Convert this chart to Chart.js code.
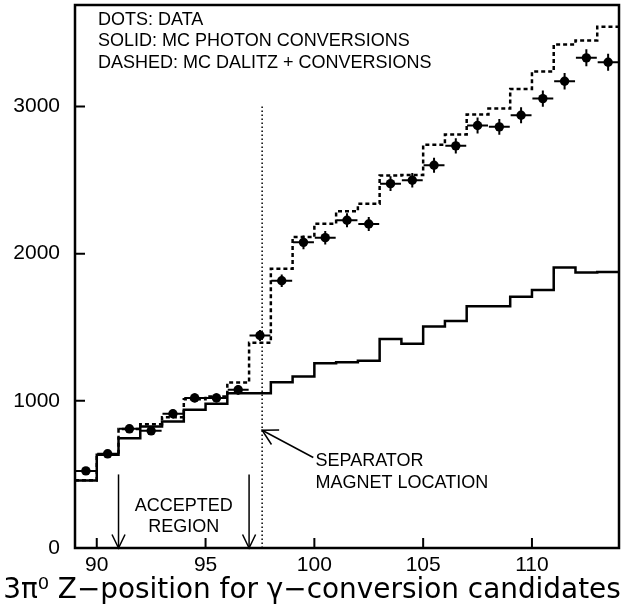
<!DOCTYPE html>
<html>
<head>
<meta charset="utf-8">
<script src="https://cdn.jsdelivr.net/npm/chart.js@4"></script>
<style>
  html, body { margin: 0; padding: 0; background: #fff; }
  canvas { display: block; }
</style>
</head>
<body>
<canvas id="zplot" width="625" height="608"></canvas>
<script>
// bin centres (1 unit wide bins from 89 to 114)
var binCenters = [89.5, 90.5, 91.5, 92.5, 93.5, 94.5, 95.5, 96.5, 97.5, 98.5,
                  99.5, 100.5, 101.5, 102.5, 103.5, 104.5, 105.5, 106.5, 107.5,
                  108.5, 109.5, 110.5, 111.5, 112.5, 113.5];

// dots: data
var dataCounts = [524, 640, 810, 796, 912, 1020, 1020, 1075, 1444, 1816,
                  2077, 2109, 2227, 2202, 2476, 2499, 2601, 2733, 2871,
                  2862, 2941, 3054, 3172, 3331, 3301];
var dataErrors = [22, 25, 28, 28, 30, 32, 32, 33, 38, 43,
                  46, 46, 47, 47, 50, 50, 51, 52, 54,
                  54, 54, 55, 56, 58, 57];

// solid: MC photon conversions
var mcConversions = [458, 633, 746, 825, 859, 939, 980, 1052, 1052, 1127,
                     1166, 1256, 1263, 1272, 1420, 1388, 1506, 1542, 1642,
                     1642, 1708, 1753, 1907, 1873, 1876];

// dashed: MC Dalitz + conversions
var mcDalitzConv = [460, 636, 808, 841, 889, 1011, 1029, 1125, 1395, 1898,
                    2114, 2204, 2288, 2340, 2531, 2535, 2741, 2810, 2946,
                    2986, 3120, 3238, 3422, 3449, 3542];

var xTickValues = [90, 95, 100, 105, 110];
var yTickValues = [0, 1000, 2000, 3000];

// annotations
var separatorZ = 97.6;
var separatorTop = 3000;
var acceptedEdges = [91, 97];
var acceptedArrowTop = 500;

var legendLines = ['DOTS: DATA', 'SOLID: MC PHOTON CONVERSIONS', 'DASHED: MC DALITZ + CONVERSIONS'];
var xTitle = '3\u03C0\u2070 Z\u2212position for \u03B3\u2212conversion candidates';

/**
 * Turn bin centres + contents into step points at the bin edges.
 */
function histPoints(values){
    var pts = [];
    for (var i = 0; i < binCenters.length; i++){
        pts.push({x: binCenters[i] - 0.5, y: values[i]});
    }
    var last = binCenters.length - 1;
    pts.push({x: binCenters[last] + 0.5, y: values[last]});
    return pts;
}

function openArrowHead(ctx, tipX, tipY, fromX, fromY, len, spread){
    var ang = Math.atan2(fromY - tipY, fromX - tipX);
    ctx.beginPath();
    ctx.moveTo(tipX + len*Math.cos(ang - spread), tipY + len*Math.sin(ang - spread));
    ctx.lineTo(tipX, tipY);
    ctx.lineTo(tipX + len*Math.cos(ang + spread), tipY + len*Math.sin(ang + spread));
    ctx.stroke();
}

var decorations = {
    id: 'decorations',
    afterDatasetsDraw: function(chart){
        var ctx = chart.ctx;
        var xs = chart.scales.x;
        var ys = chart.scales.y;
        var area = chart.chartArea;

        ctx.save();
        ctx.strokeStyle = '#000';
        ctx.fillStyle = '#000';
        ctx.lineCap = 'butt';

        // error bars on the data dots
        ctx.lineWidth = 2;
        for (var i = 0; i < binCenters.length; i++){
            var cx = xs.getPixelForValue(binCenters[i]);
            var cy = ys.getPixelForValue(dataCounts[i]);
            ctx.beginPath();
            ctx.moveTo(xs.getPixelForValue(binCenters[i] - 0.48), cy);
            ctx.lineTo(xs.getPixelForValue(binCenters[i] + 0.48), cy);
            ctx.moveTo(cx, ys.getPixelForValue(dataCounts[i] - dataErrors[i]));
            ctx.lineTo(cx, ys.getPixelForValue(dataCounts[i] + dataErrors[i]));
            ctx.stroke();
        }

        // frame
        ctx.lineWidth = 2.5;
        ctx.strokeRect(area.left, area.top, area.right - area.left, area.bottom - area.top);

        // inward tick marks
        ctx.lineWidth = 2;
        ctx.beginPath();
        xTickValues.forEach(function(v){
            var px = xs.getPixelForValue(v);
            ctx.moveTo(px, area.bottom);
            ctx.lineTo(px, area.bottom - 10);
        });
        yTickValues.forEach(function(v){
            var py = ys.getPixelForValue(v);
            ctx.moveTo(area.left, py);
            ctx.lineTo(area.left + 10, py);
        });
        ctx.stroke();

        // accepted region arrows
        ctx.lineWidth = 1.5;
        acceptedEdges.forEach(function(v){
            var px = xs.getPixelForValue(v);
            var top = ys.getPixelForValue(acceptedArrowTop);
            ctx.beginPath();
            ctx.moveTo(px, top);
            ctx.lineTo(px, area.bottom);
            ctx.stroke();
            openArrowHead(ctx, px, area.bottom, px, top, 15, 0.45);
        });

        // separator arrow
        var tipX = xs.getPixelForValue(separatorZ);
        var tipY = ys.getPixelForValue(800);
        var tailX = xs.getPixelForValue(99.95);
        var tailY = ys.getPixelForValue(615);
        ctx.beginPath();
        ctx.moveTo(tailX, tailY);
        ctx.lineTo(tipX, tipY);
        ctx.stroke();
        openArrowHead(ctx, tipX, tipY, tailX, tailY, 17, 0.5);

        // texts
        ctx.font = '18px "Liberation Sans", Arial, sans-serif';
        ctx.textBaseline = 'middle';
        ctx.textAlign = 'left';
        legendLines.forEach(function(t, k){
            ctx.fillText(t, area.left + 23, area.top + 15 + k*21.5);
        });

        ctx.textAlign = 'center';
        var midX = xs.getPixelForValue((acceptedEdges[0] + acceptedEdges[1]) / 2);
        ctx.fillText('ACCEPTED', midX, 506);
        ctx.fillText('REGION', midX, 527);

        ctx.textAlign = 'left';
        var sx = xs.getPixelForValue(100.05);
        ctx.fillText('SEPARATOR', sx, 461);
        ctx.fillText('MAGNET LOCATION', sx, 483);

        // axis title, fitted to the width of the figure
        var size = 26;
        ctx.font = size + 'px "DejaVu Sans", sans-serif';
        var w = ctx.measureText(xTitle).width;
        size = size * 618 / w;
        ctx.font = size.toFixed(1) + 'px "DejaVu Sans", sans-serif';
        ctx.textAlign = 'center';
        ctx.textBaseline = 'alphabetic';
        ctx.fillText(xTitle, 312, 598);

        ctx.restore();
    }
};

var tickFont = {family: '"Liberation Sans", Arial, sans-serif', size: 21};

var config = {
    type: 'line',
    data: {
        datasets: [
            {
                label: 'MC photon conversions',
                data: histPoints(mcConversions),
                stepped: 'before',
                borderColor: '#000',
                borderWidth: 2.5,
                pointRadius: 0,
                fill: false
            },
            {
                label: 'MC Dalitz + conversions',
                data: histPoints(mcDalitzConv),
                stepped: 'before',
                borderColor: '#000',
                borderWidth: 2.5,
                borderDash: [4, 3],
                pointRadius: 0,
                fill: false
            },
            {
                label: 'Data',
                type: 'scatter',
                data: binCenters.map(function(c, i){ return {x: c, y: dataCounts[i]}; }),
                pointRadius: 4.7,
                pointBackgroundColor: '#000',
                pointBorderWidth: 0,
                showLine: false
            },
            {
                label: 'Separator',
                data: [{x: separatorZ, y: 0}, {x: separatorZ, y: separatorTop}],
                borderColor: '#000',
                borderWidth: 1.5,
                borderDash: [1.5, 2.5],
                pointRadius: 0,
                fill: false
            }
        ]
    },
    options: {
        responsive: false,
        animation: false,
        devicePixelRatio: 1,
        layout: {padding: {top: 5, right: 6, left: 0, bottom: 0}},
        plugins: {
            legend: {display: false},
            tooltip: {enabled: false}
        },
        scales: {
            x: {
                type: 'linear',
                position: 'bottom',
                min: 89,
                max: 114,
                grid: {display: false},
                border: {display: false},
                afterFit: function(s){
                    s.height = 60;
                    s.paddingLeft = 0;
                    s.paddingRight = 0;
                },
                afterBuildTicks: function(s){ s.ticks = xTickValues.map(function(v){ return {value: v}; }); },
                ticks: {font: tickFont, color: '#000', padding: -3, maxRotation: 0, autoSkip: false,
                        callback: function(v){ return String(v); }}
            },
            y: {
                type: 'linear',
                min: 0,
                max: 3690,
                grid: {display: false},
                border: {display: false},
                afterFit: function(s){
                    s.width = 75;
                    s.paddingTop = 0;
                    s.paddingBottom = 0;
                },
                afterBuildTicks: function(s){ s.ticks = yTickValues.map(function(v){ return {value: v}; }); },
                ticks: {font: tickFont, color: '#000', padding: 7,
                        callback: function(v){ return String(v); }}
            }
        }
    },
    plugins: [decorations]
};

new Chart(document.getElementById('zplot'), config);
</script>
</body>
</html>
